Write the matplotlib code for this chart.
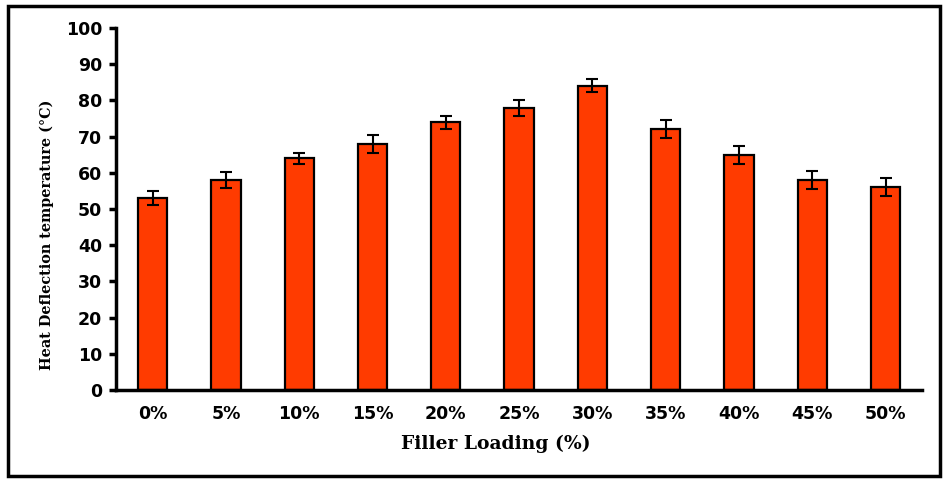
import numpy as np
import matplotlib.pyplot as plt
from matplotlib.patches import Rectangle

# ── Data ───────────────────────────────────────────────────────
loadings = ["0%", "5%", "10%", "15%", "20%", "25%", "30%", "35%", "40%", "45%", "50%"]
hdt      = [53, 58, 64, 68, 74, 78, 84, 72, 65, 58, 56]
hdt_err  = [2.0, 2.2, 1.6, 2.5, 1.8, 2.2, 1.8, 2.5, 2.5, 2.6, 2.5]

# ── Plot ───────────────────────────────────────────────────────
fig = plt.figure(figsize=(9.44, 4.79), dpi=100)
ax = fig.add_axes([0.1229, 0.1858, 0.854, 0.7557])

x = np.arange(len(loadings))
ax.bar(x, hdt, width=0.4, color="#FF3B00", edgecolor="black", linewidth=1.6,
       yerr=hdt_err, capsize=4.5,
       error_kw=dict(ecolor="black", elinewidth=1.5, capthick=1.5))

ax.set_xlim(-0.5, 10.5)
ax.set_ylim(0, 100)
ax.set_yticks(range(0, 101, 10))
ax.set_xticks(x)
ax.set_xticklabels(loadings)

for s in ["top", "right"]:
    ax.spines[s].set_visible(False)
for s in ["left", "bottom"]:
    ax.spines[s].set_linewidth(2.5)

ax.tick_params(axis="y", direction="out", length=5, width=2.5, pad=5)
ax.tick_params(axis="x", length=0, pad=11)
for lbl in ax.get_xticklabels() + ax.get_yticklabels():
    lbl.set_fontfamily("DejaVu Sans")
    lbl.set_fontweight("bold")
    lbl.set_fontsize(12.5)

ax.set_xlabel("Filler Loading (%)", fontfamily="DejaVu Serif", fontweight="bold",
              fontsize=13.5)
ax.set_ylabel("Heat Deflection temperature (°C)", fontfamily="DejaVu Serif",
              fontweight="bold", fontsize=10.4)
ax.xaxis.set_label_coords(0.471, -0.124)
ax.yaxis.set_label_coords(-0.077, 0.428)

# outer frame
fig.patches.append(Rectangle((0.008, 0.006), 0.988, 0.982, transform=fig.transFigure,
                             fill=False, edgecolor="black", linewidth=2.5))

fig.savefig("out.png", dpi=100)
